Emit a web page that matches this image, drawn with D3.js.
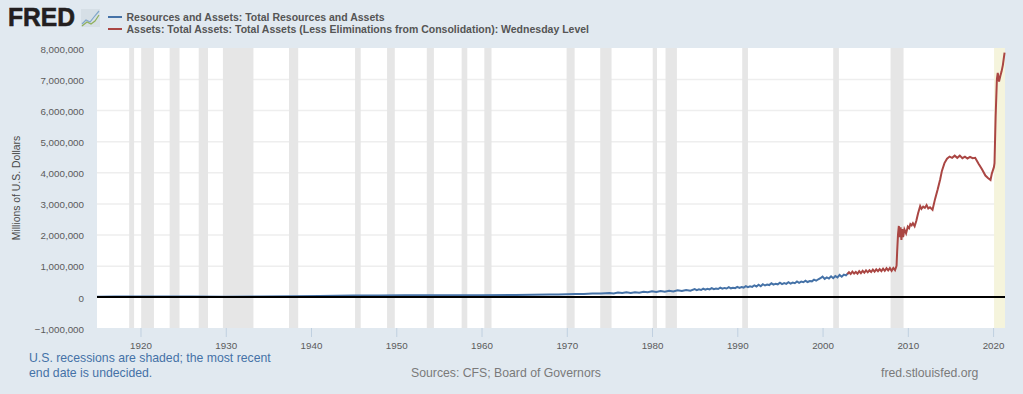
<!DOCTYPE html>
<html><head><meta charset="utf-8">
<style>html,body{margin:0;padding:0;background:#E1E9F0}svg{display:block}text{font-family:"Liberation Sans",Arial,sans-serif}</style>
<script src="https://d3js.org/d3.v7.min.js"></script></head><body>
<script>
const yTicks=[-1000000,0,1000000,2000000,3000000,4000000,5000000,6000000,7000000,8000000];
const xTicks=[1920,1930,1940,1950,1960,1970,1980,1990,2000,2010,2020];
const recessions=[[1918.67,1919.25],[1920.08,1921.58],[1923.42,1924.58],[1926.83,1927.92],[1929.67,1933.25],[1937.42,1938.5],[1945.17,1945.83],[1948.92,1949.83],[1953.58,1954.42],[1957.67,1958.33],[1960.33,1961.17],[1969.98,1970.92],[1973.92,1975.25],[1980.08,1980.58],[1981.58,1982.92],[1990.58,1991.25],[2001.25,2001.92],[2007.98,2009.5]];
const undecided=[2020.12,2021.4];
const blueSeries=[[1914.9,8000],[1917,9000],[1919,14000],[1922,11000],[1926,9000],[1930,7000],[1934,12000],[1938,18000],[1941,28000],[1943,38000],[1945,46000],[1948,47000],[1951,51000],[1955,52000],[1960,54000],[1964,62000],[1966,68000],[1968,76000],[1969,80000],[1970,84000],[1971,92000],[1972,96000],[1973,105000],[1974,112000],[1975,122000],
[1975.5,112000],[1976,138000],[1976.5,122000],[1977,145000],[1977.5,128000],[1978,152000],[1978.5,136000],[1979,164000],[1979.5,146000],[1980,178000],[1980.5,156000],[1981,188000],[1981.5,164000],[1982,196000],[1982.5,172000],[1983,214000],[1983.5,190000],[1984,224000],[1984.5,200000],[1985,248000],
[1985.25,216000],[1985.5,242000],[1985.75,222000],[1986,266000],[1986.25,232000],[1986.5,258000],[1986.75,240000],[1987,284000],[1987.25,246000],[1987.5,270000],[1987.75,254000],[1988,298000],[1988.25,262000],[1988.5,288000],[1988.75,270000],[1989,312000],[1989.25,276000],[1989.5,296000],[1989.75,280000],[1990,322000],[1990.25,288000],[1990.5,318000],[1990.75,300000],[1991,344000],[1991.25,310000],[1991.5,338000],[1991.75,322000],[1992,372000],[1992.25,334000],[1992.5,392000],[1992.75,342000],[1993,406000],[1993.25,366000],[1993.5,396000],[1993.75,380000],[1994,436000],[1994.25,392000],[1994.5,424000],[1994.75,404000],[1995,458000],[1995.25,412000],[1995.5,444000],[1995.75,420000],[1996,470000],[1996.25,428000],[1996.5,462000],[1996.75,440000],[1997,496000],[1997.25,454000],[1997.5,490000],[1997.75,470000],[1998,518000],[1998.25,478000],[1998.5,510000],[1998.75,500000],[1999,552000],[1999.25,520000],[1999.5,566000],[1999.75,600000],[2000,652000],[2000.25,578000],[2000.5,624000],[2000.75,590000],[2001,660000],[2001.25,600000],[2001.5,668000],[2001.75,628000],[2002,706000],[2002.25,650000],[2002.5,716000],[2002.75,690000],[2003,762000]];
const redSeries=[[2002.9,730000],[2003.1,790000],[2003.3,735000],[2003.5,810000],[2003.7,750000],[2003.9,800000],[2004.1,745000],[2004.3,825000],[2004.5,765000],[2004.7,835000],[2004.9,775000],[2005.1,850000],[2005.3,790000],[2005.5,855000],[2005.7,800000],[2005.9,875000],[2006.1,810000],[2006.3,885000],[2006.5,825000],[2006.7,895000],[2006.9,830000],[2007.1,910000],[2007.3,840000],[2007.5,920000],[2007.7,850000],[2007.9,925000],[2008.1,840000],[2008.3,930000],[2008.5,860000],[2008.68,1000000],[2008.75,1450000],[2008.85,2000000],[2008.95,2280000],[2009.05,1920000],[2009.15,2240000],[2009.25,1830000],[2009.35,2180000],[2009.45,1920000],[2009.6,2170000],[2009.8,2040000],[2010,2260000],[2010.15,2210000],[2010.3,2340000],[2010.45,2300000],[2010.6,2370000],[2010.8,2270000],[2011,2450000],[2011.2,2680000],[2011.45,2920000],[2011.6,2830000],[2011.8,2900000],[2012,2860000],[2012.2,2950000],[2012.4,2840000],[2012.6,2880000],[2012.9,2800000],[2013.2,3150000],[2013.5,3450000],[2013.8,3780000],[2014,4050000],[2014.3,4300000],[2014.6,4440000],[2014.9,4510000],[2015.2,4470000],[2015.5,4540000],[2015.8,4470000],[2016.1,4540000],[2016.4,4460000],[2016.7,4510000],[2017,4450000],[2017.3,4500000],[2017.6,4460000],[2017.9,4470000],[2018.3,4280000],[2018.7,4100000],[2019.1,3900000],[2019.4,3820000],[2019.7,3760000],[2019.85,3960000],[2020.1,4170000],[2020.17,4300000],[2020.3,5800000],[2020.45,7000000],[2020.55,7200000],[2020.7,6920000],[2020.85,7100000],[2021,7250000],[2021.15,7450000],[2021.35,7850000]];

const W=1023,H=394,font='"Liberation Sans",Arial,sans-serif';
const x=d3.scaleLinear().domain([1914.9,2021.4]).range([97,1005]);
const y=d3.scaleLinear().domain([-1000000,8000000]).range([328,48]);
const svg=d3.select("body").append("svg").attr("width",W).attr("height",H);
svg.append("rect").attr("width",W).attr("height",H).attr("fill","#E1E9F0");
svg.append("rect").attr("x",97).attr("y",48).attr("width",908).attr("height",280).attr("fill","#fff");
svg.selectAll(".grid").data(yTicks.filter(d=>d>-1000000&&d<8000000)).join("line")
 .attr("x1",97).attr("x2",1005).attr("y1",d=>y(d)+.4).attr("y2",d=>y(d)+.4).attr("stroke","#EEEEEE").attr("stroke-width",1.5);
svg.selectAll(".rec").data(recessions).join("rect")
 .attr("x",d=>x(d[0])).attr("width",d=>x(d[1])-x(d[0])).attr("y",48).attr("height",280).attr("fill","#E5E5E5").attr("fill-opacity",.95);
svg.append("rect").attr("x",x(undecided[0])).attr("width",x(undecided[1])-x(undecided[0])).attr("y",48).attr("height",280).attr("fill","#F5F4DC");

const xAxis=d3.axisBottom(x).tickValues(xTicks).tickFormat(d3.format("d")).tickSize(9).tickPadding(5);
const gx=svg.append("g").attr("transform","translate(0,328)").call(xAxis);
gx.select(".domain").remove();
gx.selectAll("line").attr("stroke","#C0D0E0");
gx.selectAll("text").attr("fill","#5b5b5b").attr("font-size",9.8).attr("font-family",font);
const yAxis=d3.axisLeft(y).tickValues(yTicks).tickFormat(d3.format(",")).tickSize(0).tickPadding(13);
const gy=svg.append("g").attr("transform","translate(97,1)").call(yAxis);
gy.select(".domain").remove();
gy.selectAll("text").attr("fill","#5b5b5b").attr("font-size",9.8).attr("font-family",font);

const line=d3.line().x(d=>x(d[0])).y(d=>y(d[1]));
svg.append("path").attr("d",line(blueSeries)).attr("fill","none").attr("stroke","#4572A7").attr("stroke-width",2);
svg.append("path").attr("d",line(redSeries)).attr("fill","none").attr("stroke","#AA4643").attr("stroke-width",2);
svg.append("line").attr("x1",97).attr("x2",1005).attr("y1",y(0)).attr("y2",y(0)).attr("stroke","#000").attr("stroke-width",2);

svg.append("text").attr("x",8).attr("y",26).attr("font-size",25).attr("font-weight",700).attr("fill","#231f20").attr("textLength",67).attr("lengthAdjust","spacingAndGlyphs").attr("stroke","#231f20").attr("stroke-width",.6).text("FRED");
const logo=svg.append("g").attr("transform","translate(81,9)");
logo.append("rect").attr("width",19).attr("height",18).attr("fill","#D6DFE6");
logo.append("polyline").attr("points","1,15 5,11 9,13 13,8 18,2").attr("fill","none").attr("stroke","#7fa6c9").attr("stroke-width",1.2);
logo.append("polyline").attr("points","1,17 6,13 10,15 14,12 18,6").attr("fill","none").attr("stroke","#8fb05a").attr("stroke-width",1.2);

const legend=[["Resources and Assets: Total Resources and Assets","#4572A7",17],["Assets: Total Assets: Total Assets (Less Eliminations from Consolidation): Wednesday Level","#AA4643",29]];
legend.forEach(l=>{
 svg.append("line").attr("x1",108).attr("x2",122).attr("y1",l[2]).attr("y2",l[2]).attr("stroke",l[1]).attr("stroke-width",2);
 svg.append("text").attr("x",126.5).attr("y",l[2]+4).attr("font-size",10.5).attr("font-weight",700).attr("fill","#555").text(l[0]);
});
svg.append("text").attr("transform","translate(20,188) rotate(-90)").attr("text-anchor","middle").attr("font-size",10.4).attr("fill","#4a4a4a").text("Millions of U.S. Dollars");
svg.append("text").attr("x",29).attr("y",362).attr("font-size",12.25).attr("fill","#4572A7").text("U.S. recessions are shaded; the most recent");
svg.append("text").attr("x",29).attr("y",377).attr("font-size",12.25).attr("fill","#4572A7").text("end date is undecided.");
svg.append("text").attr("x",411).attr("y",377).attr("font-size",12.25).attr("fill","#7a7a7a").text("Sources: CFS; Board of Governors");
svg.append("text").attr("x",881).attr("y",377).attr("font-size",12.25).attr("fill","#7a7a7a").text("fred.stlouisfed.org");
</script></body></html>
